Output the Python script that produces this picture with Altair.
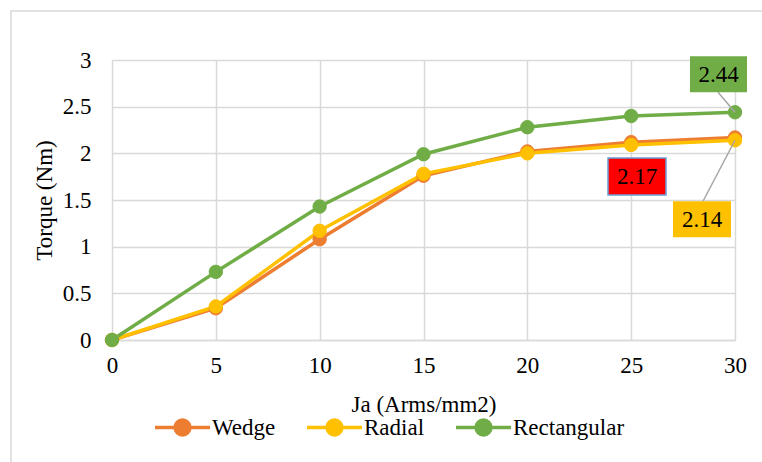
import altair as alt
import pandas as pd

ja = [0, 5, 10, 15, 20, 25, 30]
wedge = [0.0, 0.34, 1.08, 1.76, 2.02, 2.12, 2.17]
radial = [0.0, 0.36, 1.17, 1.78, 2.00, 2.09, 2.14]
rect = [0.0, 0.73, 1.43, 1.99, 2.28, 2.40, 2.44]
series_names = ["Wedge", "Radial", "Rectangular"]
series_colors = ["#ED7D31", "#FFC000", "#70AD47"]
label_texts = ["2.17", "2.14", "2.44"]
label_fills = ["#FF0000", "#FFC000", "#70AD47"]

FONT = "'Liberation Serif', 'Times New Roman', 'DejaVu Serif', serif"
GRID = "#D9D9D9"

rows = []
for name, vals in zip(series_names, [wedge, radial, rect]):
    for i, (x, v) in enumerate(zip(ja, vals)):
        rows.append({"Ja": x, "Torque": v, "Series": name, "ord": i})
df = pd.DataFrame(rows)

xs = alt.Scale(domain=[0, 30], nice=False)
ys = alt.Scale(domain=[0, 3], nice=False)
cs = alt.Scale(domain=series_names, range=series_colors)

x_enc = alt.X("Ja:Q", scale=xs, axis=alt.Axis(
    title="Ja (Arms/mm2)", values=[0, 5, 10, 15, 20, 25, 30], grid=True,
    gridColor=GRID, gridWidth=1.5, domainColor=GRID, domainWidth=1.5, ticks=False,
    labelFont=FONT, labelFontSize=23, labelColor="#000", labelPadding=14, labelFlush=False,
    titleFont=FONT, titleFontSize=23, titleFontWeight="normal", titleColor="#000",
    titlePadding=16))
y_enc = alt.Y("Torque:Q", scale=ys, axis=alt.Axis(
    title="Torque (Nm)", values=[0, 0.5, 1, 1.5, 2, 2.5, 3], format="~g", grid=True,
    gridColor=GRID, gridWidth=1.5, domain=False, ticks=False,
    labelFont=FONT, labelFontSize=23, labelColor="#000", labelPadding=21, labelFlush=False,
    titleFont=FONT, titleFontSize=23, titleFontWeight="normal", titleColor="#000",
    titlePadding=6))

legend = alt.Legend(
    orient="none", direction="horizontal", legendX=41, legendY=338, title=None,
    symbolType="M-1,0H-0.27M0.27,0H1M-0.27,0A0.27,0.27 0 1,0 0.27,0A0.27,0.27 0 1,0 -0.27,0",
    symbolSize=3025, symbolStrokeWidth=3.5, labelFont=FONT, labelFontSize=23,
    labelColor="#000", columnPadding=24, labelOffset=0, padding=0, gridAlign="none",
    symbolOpacity=1)

lines = alt.Chart(df).mark_line(strokeWidth=3.5).encode(
    x=x_enc, y=y_enc, stroke=alt.Stroke("Series:N", scale=cs, legend=legend), order="ord:Q")
points = alt.Chart(df).mark_point(filled=True, size=180, opacity=1, strokeWidth=1).encode(
    x="Ja:Q", y="Torque:Q",
    fill=alt.Fill("Series:N", scale=cs, legend=legend),
    stroke=alt.Stroke("Series:N", scale=cs, legend=legend))

border = alt.Chart(pd.DataFrame({"a": [0]})).mark_rect(
    fill=None, stroke=GRID, strokeWidth=1.5).encode(
    x=alt.value(-101), x2=alt.value(660), y=alt.value(-49), y2=alt.value(410))

def annot(value, text, fill, box, txt, leader=None, stroke=None):
    d = pd.DataFrame({"x": [ja[-1]], "y": [value], "t": [text]})
    base = alt.Chart(d)
    layers = []
    if leader:
        layers.append(base.mark_rule(color="#A6A6A6", strokeWidth=1.5,
                                     x2Offset=leader[0], y2Offset=leader[1]).encode(
            x="x:Q", y="y:Q", x2="x:Q", y2="y:Q"))
    kw = dict(fill=fill, xOffset=box[0], x2Offset=box[1], yOffset=box[2], y2Offset=box[3])
    if stroke:
        kw.update(stroke=stroke, strokeWidth=1.5)
    layers.append(base.mark_rect(**kw).encode(x="x:Q", x2="x:Q", y="y:Q", y2="y:Q"))
    layers.append(base.mark_text(font=FONT, fontSize=23, color="#000",
                                 dx=txt[0], dy=txt[1], align="center", baseline="middle").encode(
        x="x:Q", y="y:Q", text="t:N"))
    return layers

ann = []
ann += annot(rect[-1], label_texts[2], label_fills[2], (-45, 12, -56, -20), (-16.5, -37), leader=(-17, -20))
ann += annot(wedge[-1], label_texts[0], label_fills[0], (-127, -69, 20.5, 57.5), (-98, 40), stroke="#6A9FD8")
ann += annot(radial[-1], label_texts[1], label_fills[1], (-62, -4, 61, 97), (-33, 80), leader=(-32, 61))

chart = alt.layer(border, lines, points, *ann).properties(
    width=623, height=280,
    autosize=alt.AutoSizeParams(type="none"),
    padding={"left": 112, "top": 60, "right": 27, "bottom": 122},
).configure_view(strokeWidth=0).configure(background="white")

chart.save("out.html", embed_options={"renderer": "svg", "actions": False})
